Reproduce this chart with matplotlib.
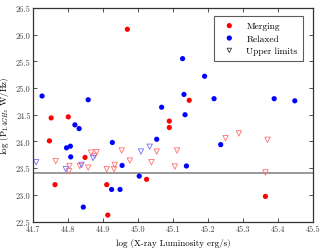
import matplotlib
matplotlib.use("Agg")
import matplotlib.pyplot as plt

plt.rcParams['font.family'] = ['cmr10', 'DejaVu Serif']
plt.rcParams['mathtext.fontset'] = 'cm'
plt.rcParams['axes.formatter.use_mathtext'] = True

# Merging clusters (red dots)
merg_x = [44.751, 44.800, 44.969, 45.146, 45.089, 45.089, 45.364, 44.746, 44.848, 45.024, 44.762, 44.910, 44.913]
merg_y = [24.44, 24.46, 26.10, 24.77, 24.38, 24.26, 22.97, 24.01, 23.70, 23.29, 23.19, 23.19, 22.62]

# Relaxed clusters (blue dots)
relx_x = [44.725, 44.857, 45.067, 45.127, 45.190, 45.131, 45.217, 45.389, 45.448, 45.134, 45.138, 45.236,
          44.819, 44.831, 44.926, 45.053, 44.795, 44.806, 44.807, 44.954, 45.003, 44.924, 44.948, 44.843]
relx_y = [24.85, 24.78, 24.64, 25.55, 25.22, 24.88, 24.80, 24.80, 24.76, 24.50, 23.54, 23.94,
          24.31, 24.24, 23.98, 24.04, 23.88, 23.91, 23.71, 23.55, 23.35, 23.10, 23.10, 22.77]

# Upper limits, merging (red open triangles)
ulm_x = [45.111, 45.105, 45.250, 45.288, 45.370, 45.364, 44.764, 44.803, 44.802, 44.833, 44.857,
         44.865, 44.881, 44.876, 44.953, 45.053, 44.976, 45.038, 44.910, 44.933, 44.931]
ulm_y = [23.83, 23.53, 24.06, 24.15, 24.03, 23.42, 23.63, 23.54, 23.44, 23.54, 23.51,
         23.79, 23.80, 23.73, 23.83, 23.81, 23.64, 23.61, 23.48, 23.56, 23.48]

# Upper limits, relaxed (blue open triangles)
ulr_x = [44.708, 44.793, 44.838, 44.871, 45.008, 45.033]
ulr_y = [23.61, 23.48, 23.56, 23.69, 23.81, 23.90]

threshold = 23.4

fig = plt.figure(figsize=(3.25, 2.51), dpi=100)
ax = fig.add_axes([0.1025, 0.1135, 0.8605, 0.851])

ax.scatter(merg_x, merg_y, s=14, c='red', edgecolors='none', label='Merging', zorder=3)
ax.scatter(relx_x, relx_y, s=14, c='blue', edgecolors='none', label='Relaxed', zorder=3)
ax.scatter(ulm_x, ulm_y, s=15, marker='v', facecolors='none', edgecolors='#ff7070',
           linewidths=0.6, zorder=2)
ax.scatter(ulr_x, ulr_y, s=15, marker='v', facecolors='none', edgecolors='#7070ff',
           linewidths=0.6, zorder=2)
ax.scatter([], [], s=10, marker='v', facecolors='none', edgecolors='#333333',
           linewidths=0.6, label='Upper limits')

ax.axhline(threshold, color='#888888', lw=1.2, zorder=1)

ax.set_xlim(44.7, 45.5)
ax.set_ylim(22.5, 26.5)
ax.set_xticks([44.7, 44.8, 44.9, 45.0, 45.1, 45.2, 45.3, 45.4, 45.5])
ax.set_xticklabels(['44.7', '44.8', '44.9', '45.0', '45.1', '45.2', '45.3', '45.4', '45.5'])
ax.set_yticks([22.5, 23.0, 23.5, 24.0, 24.5, 25.0, 25.5, 26.0, 26.5])
ax.set_yticklabels(['22.5', '23.0', '23.5', '24.0', '24.5', '25.0', '25.5', '26.0', '26.5'])
ax.tick_params(direction='in', top=True, right=True, labelsize=6, length=3, width=0.6,
               colors='#333333', labelcolor='#444444', pad=2)
for sp in ax.spines.values():
    sp.set_color('#333333')
    sp.set_linewidth(0.9)

ax.set_xlabel('log (X-ray Luminosity erg/s)', fontsize=6.5, labelpad=4)
ax.set_ylabel(r'log (P$_{1.4GHz}$ W/Hz)', fontsize=6.5, labelpad=3)

leg = ax.legend(loc='upper right', fontsize=6.8, frameon=True, fancybox=False,
                borderpad=0.6, handletextpad=0.8, labelspacing=0.4, scatterpoints=1,
                bbox_to_anchor=(0.982, 0.985))
leg.get_frame().set_edgecolor('#333333')
leg.get_frame().set_linewidth(0.8)

fig.savefig('out.png', dpi=100)
